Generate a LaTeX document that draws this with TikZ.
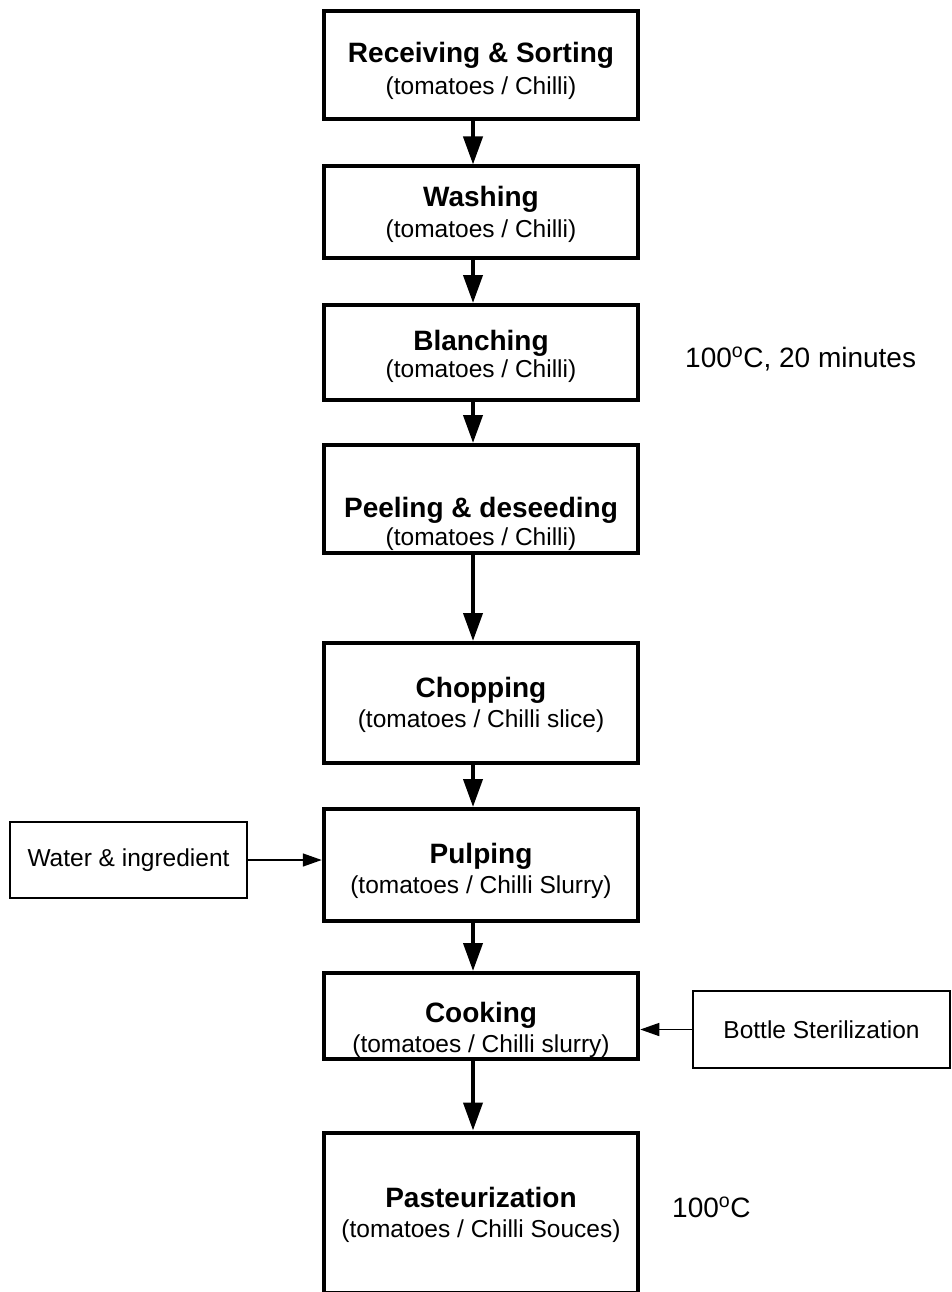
\documentclass[tikz,border=0pt]{standalone}
\usepackage{fontspec}
\setmainfont{Liberation Sans}
\usetikzlibrary{arrows.meta}

\begin{document}
\begin{tikzpicture}[x=1pt,y=-1pt,
  stage/.style={draw, line width=4pt, minimum width=314.5pt, inner sep=0pt},
  side/.style={draw, line width=1.5pt, inner sep=0pt, font=\fontsize{24.5}{28}\selectfont},
  head/.style={font=\bfseries\fontsize{28}{32}\selectfont, anchor=base, inner sep=0pt},
  sub/.style={font=\fontsize{24.5}{28}\selectfont, anchor=base, inner sep=0pt},
  note/.style={font=\fontsize{28}{32}\selectfont, anchor=base west, inner sep=0pt},
  flow/.style={line width=4pt, -{Triangle[length=28pt,width=19pt]}},
  feed/.style={line width=1.5pt, -{Triangle[length=19pt,width=13pt]}}
]
\useasboundingbox (0,0) rectangle (951,1292);

% process stages
\node[stage, minimum height=108.5pt] (b1) at (481,65.25) {};
\node[stage, minimum height=91.5pt]  (b2) at (481,212.25) {};
\node[stage, minimum height=95pt]    (b3) at (481,352.5) {};
\node[stage, minimum height=108pt]   (b4) at (481,499) {};
\node[stage, minimum height=120pt]   (b5) at (481,703) {};
\node[stage, minimum height=112pt]   (b6) at (481,865) {};
\node[stage, minimum height=86pt]    (b7) at (481,1016) {};
\node[stage, minimum height=160.5pt] (b8) at (481,1212.75) {};

% stage captions
\node[head] (h1) at (481,63)   {Receiving \& Sorting};
\node[sub]  (s1) at (481,95)   {(tomatoes / Chilli)};
\node[head] (h2) at (481,207)  {Washing};
\node[sub]  (s2) at (481,237)  {(tomatoes / Chilli)};
\node[head] (h3) at (481,350)  {Blanching};
\node[sub]  (s3) at (481,377)  {(tomatoes / Chilli)};
\node[head] (h4) at (481,517)  {Peeling \& deseeding};
\node[sub]  (s4) at (481,545)  {(tomatoes / Chilli)};
\node[head] (h5) at (481,697)  {Chopping};
\node[sub]  (s5) at (481,727)  {(tomatoes / Chilli slice)};
\node[head] (h6) at (481,863)  {Pulping};
\node[sub]  (s6) at (481,893)  {(tomatoes / Chilli Slurry)};
\node[head] (h7) at (481,1022) {Cooking};
\node[sub]  (s7) at (481,1052) {(tomatoes / Chilli slurry)};
\node[head] (h8) at (481,1207) {Pasteurization};
\node[sub]  (s8) at (481,1237) {(tomatoes / Chilli Souces)};

% process conditions
\node[note] (n1) at (685,367)  {100\textsuperscript{o}C, 20 minutes};
\node[note] (n2) at (672,1217) {100\textsuperscript{o}C};

% side inputs
\node[side, minimum width=237pt, minimum height=76pt] (w)  at (128.5,860)   {Water \& ingredient};
\node[side, minimum width=257pt, minimum height=77pt] (bs) at (821.5,1029.5) {Bottle Sterilization};

% main flow
\coordinate (axis) at (473,0);
\draw[flow] (b1.south -| axis) -- (b2.north -| axis);
\draw[flow] (b2.south -| axis) -- (b3.north -| axis);
\draw[flow] (b3.south -| axis) -- (b4.north -| axis);
\draw[flow] (b4.south -| axis) -- (b5.north -| axis);
\draw[flow] (b5.south -| axis) -- (b6.north -| axis);
\draw[flow] (b6.south -| axis) -- (b7.north -| axis);
\draw[flow] (b7.south -| axis) -- (b8.north -| axis);

% feeds
\draw[feed] (w.east) -- (w.east -| b6.west);
\draw[feed] (bs.west) -- (bs.west -| b7.east);
\end{tikzpicture}
\end{document}
